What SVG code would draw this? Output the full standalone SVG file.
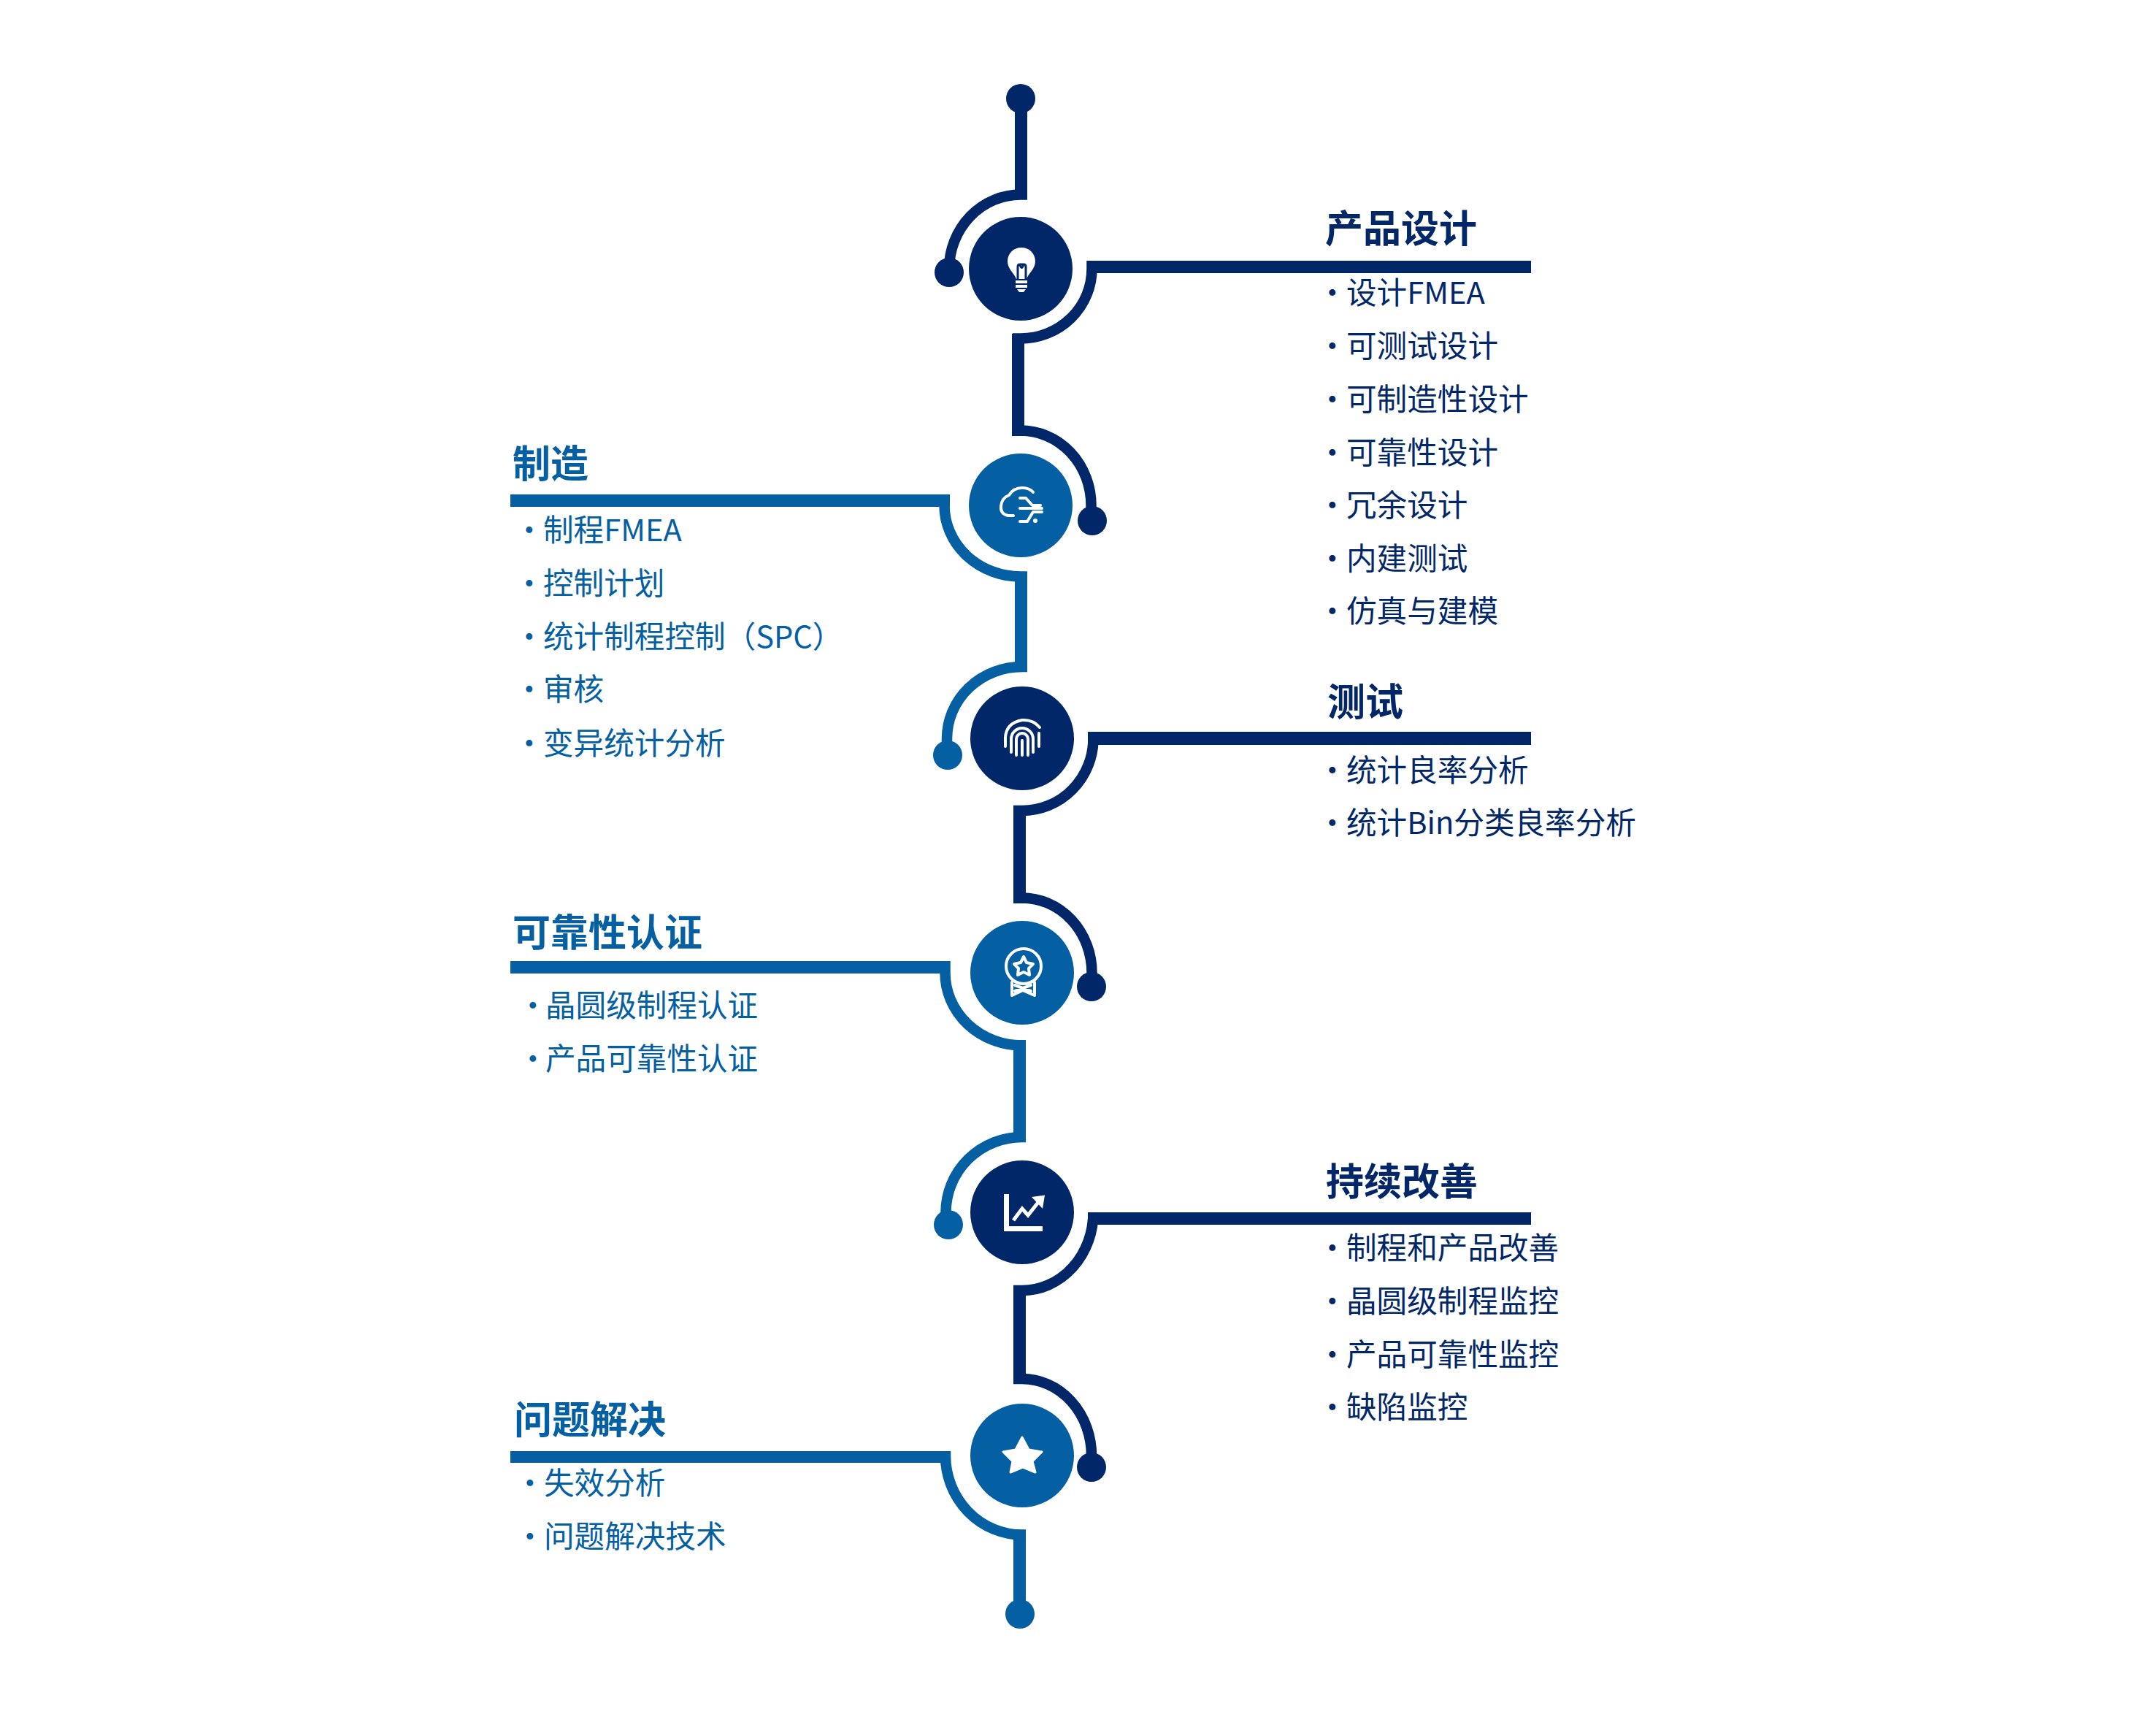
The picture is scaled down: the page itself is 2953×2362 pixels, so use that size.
<svg xmlns="http://www.w3.org/2000/svg" width="2953" height="2362" viewBox="0 0 2953 2362">
<style>
text{font-family:"Noto Sans CJK SC","Noto Sans",sans-serif}
.t{font-size:52px;font-weight:700}
.i{font-size:41.6px;font-weight:400}
.n{fill:#012768}.b{fill:#0460a3}
.ln{fill:none;stroke:#012768;stroke-width:14.500}.lb{fill:none;stroke:#0460a3;stroke-width:14.500}
.ic{fill:none;stroke:#fff;stroke-width:4;stroke-linecap:round;stroke-linejoin:round}
.w{fill:#fff}
</style>
<rect width="2953" height="2362" fill="#fff"/>
<g id="connectors">
<g class="n">
<rect x="1390" y="135" width="17" height="135"/><circle cx="1398" cy="135" r="20"/><circle cx="1300" cy="373" r="20"/>
<rect x="1489" y="357" width="608" height="17"/><rect x="1386" y="457" width="17" height="140"/><circle cx="1496" cy="713" r="20"/>
<rect x="1490" y="1002" width="607" height="18"/><rect x="1388" y="1103" width="17" height="134"/><circle cx="1495" cy="1351" r="20"/>
<rect x="1490" y="1660" width="607" height="17"/><rect x="1388" y="1760" width="17" height="135"/><circle cx="1495" cy="2009" r="20"/>
</g>
<g class="b">
<rect x="699" y="677" width="602" height="17"/><rect x="1390" y="783" width="17" height="137"/><circle cx="1298" cy="1034" r="20"/>
<rect x="699" y="1316" width="600" height="17"/><rect x="1388" y="1424" width="17" height="140"/><circle cx="1299" cy="1677" r="20"/>
<rect x="699" y="1987" width="600" height="16"/><rect x="1388" y="2095" width="17" height="115"/><circle cx="1397" cy="2210" r="20"/>
</g>
<path class="ln" d="M1407 266.500H1398A98 102 0 0 0 1300 368V373"/>
<path class="ln" d="M1495.500 357V368A97.500 95.500 0 0 1 1398 463.500H1387"/>
<path class="ln" d="M1386 589.500H1398A96.500 102.500 0 0 1 1494.500 692V713"/>
<path class="lb" d="M1293.500 677V692A104.500 97.500 0 0 0 1398 789.500H1407"/>
<path class="lb" d="M1407 913H1400A103 98 0 0 0 1297 1011V1034"/>
<path class="ln" d="M1497.500 1002V1011A97.500 99 0 0 1 1400 1110H1388"/>
<path class="ln" d="M1388 1229.500H1400A95.500 102.500 0 0 1 1495.500 1332V1351"/>
<path class="lb" d="M1294.500 1316V1332A105.500 99.500 0 0 0 1400 1431.500H1405"/>
<path class="lb" d="M1405 1557H1400A104.500 103 0 0 0 1295.500 1660V1677"/>
<path class="ln" d="M1497.500 1660A97.500 107 0 0 1 1400 1767H1388"/>
<path class="ln" d="M1388 1888H1400A95 105 0 0 1 1495 1993V2009"/>
<path class="lb" d="M1295 1987V1993A105 108.500 0 0 0 1400 2101.500H1405"/>
</g>
<g id="node-design">
<circle class="n" cx="1398" cy="368" r="71"/>
<path class="w" d="M1399 339C1388 339 1380 347 1380 358C1380 368 1389 374 1392 382H1406C1409 374 1418 368 1418 358C1418 347 1410 339 1399 339Z"/>
<path fill="none" stroke="#012768" stroke-width="3" d="M1394 382V365Q1394 362 1397 362H1402Q1405 362 1405 365V382M1397 362Q1399 371 1402 362"/>
<path class="w" d="M1391 384H1407V388H1391ZM1391 390H1407V394H1391ZM1393 396H1405L1402 400H1396Z"/>
<text class="t n" x="1815" y="332">产品设计</text>
<g class="i n">
<text y="416"><tspan x="1804">•</tspan><tspan x="1844">设计FMEA</tspan></text>
<text y="489"><tspan x="1804">•</tspan><tspan x="1844">可测试设计</tspan></text>
<text y="562"><tspan x="1804">•</tspan><tspan x="1844">可制造性设计</tspan></text>
<text y="635"><tspan x="1804">•</tspan><tspan x="1844">可靠性设计</tspan></text>
<text y="707"><tspan x="1804">•</tspan><tspan x="1844">冗余设计</tspan></text>
<text y="780"><tspan x="1804">•</tspan><tspan x="1844">内建测试</tspan></text>
<text y="852"><tspan x="1804">•</tspan><tspan x="1844">仿真与建模</tspan></text>
</g>
</g>
<g id="node-manufacturing">
<circle class="b" cx="1398" cy="692" r="71"/>
<path class="ic" d="M1388 706H1381Q1370 704 1371 693Q1372 682 1382 678Q1388 668 1400 668Q1410 668 1415 674M1397 682H1405L1414 692H1425M1397 696H1427M1397 714H1407L1415 701H1427"/>
<circle class="w" cx="1418" cy="713" r="3"/>
<text class="t b" x="702" y="654">制造</text>
<g class="i b">
<text y="741"><tspan x="704">•</tspan><tspan x="744">制程FMEA</tspan></text>
<text y="814"><tspan x="704">•</tspan><tspan x="744">控制计划</tspan></text>
<text y="887"><tspan x="704">•</tspan><tspan x="744">统计制程控制（SPC）</tspan></text>
<text y="959"><tspan x="704">•</tspan><tspan x="744">审核</tspan></text>
<text y="1033"><tspan x="704">•</tspan><tspan x="744">变异统计分析</tspan></text>
</g>
</g>
<g id="node-test">
<circle class="n" cx="1400" cy="1011" r="71"/>
<path class="ic" d="M1377 1022V1010Q1378 990 1400 986Q1415 985 1424 996M1385 1030V1012A15 15 0 0 1 1415 1012V1030M1392 1034V1012A8 8 0 0 1 1408 1012V1034M1400 1034V1014M1423 1004V1022"/>
<text class="t n" x="1818" y="980">测试</text>
<g class="i n">
<text y="1070"><tspan x="1804">•</tspan><tspan x="1844">统计良率分析</tspan></text>
<text y="1142"><tspan x="1804">•</tspan><tspan x="1844">统计Bin分类良率分析</tspan></text>
</g>
</g>
<g id="node-qualification">
<circle class="b" cx="1400" cy="1332" r="71"/>
<circle class="ic" cx="1402" cy="1323" r="24"/>
<path class="ic" d="M1402 1310L1406 1318L1415 1320L1409 1326L1410 1335L1402 1331L1394 1335L1395 1326L1389 1320L1398 1318ZM1386 1345V1363L1401 1356L1417 1363V1345M1390 1349L1412 1357M1412 1349L1390 1357"/>
<text class="t b" x="702" y="1296">可靠性认证</text>
<g class="i b">
<text y="1392"><tspan x="709">•</tspan><tspan x="747">晶圆级制程认证</tspan></text>
<text y="1465"><tspan x="709">•</tspan><tspan x="747">产品可靠性认证</tspan></text>
</g>
</g>
<g id="node-improvement">
<circle class="n" cx="1400" cy="1660" r="71"/>
<path fill="none" stroke="#fff" stroke-width="7" d="M1378.500 1635V1682.500H1428"/>
<path fill="none" stroke="#fff" stroke-width="5" d="M1388 1671L1400 1655L1408 1664L1423 1645"/>
<path class="w" d="M1413 1639L1431 1636.500L1428 1655Z"/>
<text class="t n" x="1816" y="1637">持续改善</text>
<g class="i n">
<text y="1724"><tspan x="1804">•</tspan><tspan x="1844">制程和产品改善</tspan></text>
<text y="1797"><tspan x="1804">•</tspan><tspan x="1844">晶圆级制程监控</tspan></text>
<text y="1870"><tspan x="1804">•</tspan><tspan x="1844">产品可靠性监控</tspan></text>
<text y="1942"><tspan x="1804">•</tspan><tspan x="1844">缺陷监控</tspan></text>
</g>
</g>
<g id="node-problem-solving">
<circle class="b" cx="1400" cy="1993" r="71"/>
<path class="w" stroke="#fff" stroke-width="3" stroke-linejoin="round" d="M1400 1968L1409 1985L1427 1988L1414 2001L1418 2016L1401 2009L1384 2016L1387 2001L1374 1988L1391 1985Z"/>
<text class="t b" x="704" y="1963">问题解决</text>
<g class="i b">
<text y="2046"><tspan x="705">•</tspan><tspan x="745">失效分析</tspan></text>
<text y="2119"><tspan x="705">•</tspan><tspan x="745">问题解决技术</tspan></text>
</g>
</g>
</svg>
